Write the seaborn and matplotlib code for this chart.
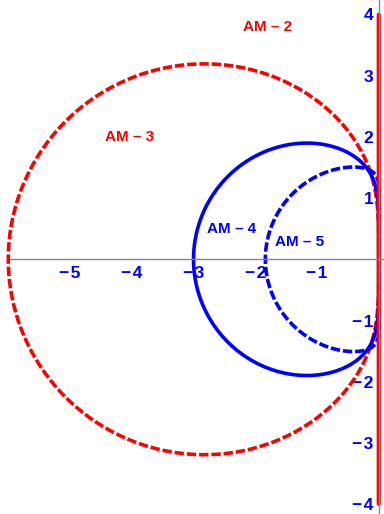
import numpy as np
import pandas as pd
import matplotlib
matplotlib.use("Agg")
import matplotlib.pyplot as plt
import seaborn as sns

# Adams-Moulton method coefficients: rho(w) = w^k - w^(k-1), sigma(w) = sum(beta_j w^j) / denom
am_names = ["AM \u2013 2", "AM \u2013 3", "AM \u2013 4", "AM \u2013 5"]
am2_beta = [1, 1]
am2_denom = 2
am3_beta = [5, 8, -1]
am3_denom = 12
am4_beta = [9, 19, -5, 1]
am4_denom = 24
am5_beta = [251, 646, -264, 106, -19]
am5_denom = 720

x_ticks = [-5, -4, -3, -2, -1]
y_ticks = [-4, -3, -2, -1, 1, 2, 3, 4]

# label anchors (data coordinates) and colours
label_x = [-1.80, -4.03, -2.38, -1.28]
label_y = [3.79, 2.00, 0.50, 0.29]
label_colors = ["#ff0000", "#ff0000", "#0000ff", "#0000ff"]


def boundary_locus(beta, denom, n=2000):
    theta = np.linspace(0, 2 * np.pi, n)
    w = np.exp(1j * theta)
    k = len(beta) - 1
    rho = w ** k - w ** (k - 1)
    sigma = np.polyval(beta, w) / denom
    z = rho / sigma
    return pd.DataFrame({"re": z.real, "im": z.imag, "order": np.arange(n)})


def tick_text(v):
    return f"\u2212\u200a{abs(v)}" if v < 0 else str(v)


sns.set_style("white")
plt.rcParams["font.family"] = ["Liberation Sans", "DejaVu Sans"]

fig = plt.figure(figsize=(3.84, 5.14), dpi=100)
ax = fig.add_axes([0, 0, 1, 1])

red = "#ff0000"
blue = "#0000ff"

am3 = boundary_locus(am3_beta, am3_denom)
sns.lineplot(data=am3, x="re", y="im", sort=False, estimator=None, ax=ax,
             color=red, lw=2.6, linestyle=(0, (2.6, 0.8)))

am4 = boundary_locus(am4_beta, am4_denom)
sns.lineplot(data=am4, x="re", y="im", sort=False, estimator=None, ax=ax,
             color=blue, lw=2.6)

am5 = boundary_locus(am5_beta, am5_denom)
sns.lineplot(data=am5, x="re", y="im", sort=False, estimator=None, ax=ax,
             color=blue, lw=2.6, linestyle=(0, (2.6, 0.8)))

# trapezoidal rule: boundary is the imaginary axis, shown for |Im z| <= 4
am2 = boundary_locus(am2_beta, am2_denom, n=4001)
am2 = am2[(am2["im"].abs() <= 4.0) & (am2["re"].abs() < 1e-6)]
am2 = am2.sort_values("im")
sns.lineplot(data=am2, x="re", y="im", sort=False, estimator=None, ax=ax,
             color=red, lw=3.0, zorder=3)

for name, lx, ly, c in zip(am_names, label_x, label_y, label_colors):
    ax.text(lx, ly, name, color=c, fontsize=11, fontweight="bold",
            ha="center", va="center")

ax.set_xlim(-6.134, 0.085)
ax.set_ylim(-4.16, 4.235)

for side in ["top", "right"]:
    ax.spines[side].set_visible(False)
ax.spines["left"].set_position(("data", 0))
ax.spines["bottom"].set_position(("data", 0))
ax.spines["bottom"].set_bounds(-5.97, 0.085)
for side in ["left", "bottom"]:
    ax.spines[side].set_color("#888888")
    ax.spines[side].set_linewidth(1.0)
    ax.spines[side].set_zorder(4)

ax.set_xticks(x_ticks)
ax.set_yticks(y_ticks)
ax.set_xticklabels([tick_text(v) for v in x_ticks])
ax.set_yticklabels([tick_text(v) for v in y_ticks])
ax.tick_params(axis="both", which="both", length=3, width=0.8,
               color="#555555", labelcolor=blue, labelsize=12.5)
ax.tick_params(axis="x", direction="in", pad=5)
ax.tick_params(axis="y", direction="out", pad=1)
for t in ax.yaxis.get_major_ticks():
    t.tick1line.set_marker(matplotlib.lines.TICKRIGHT)
for lab in ax.get_xticklabels() + ax.get_yticklabels():
    lab.set_fontweight("bold")
ax.set_xlabel("")
ax.set_ylabel("")
ax.grid(False)

fig.savefig("out.png", dpi=100)
